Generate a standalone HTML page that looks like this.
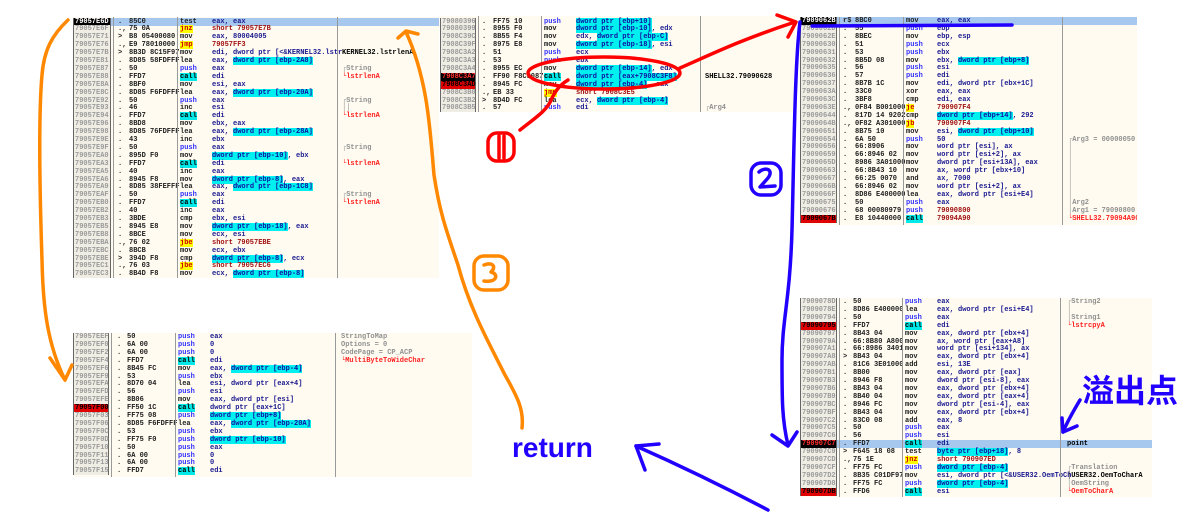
<!DOCTYPE html>
<html><head><meta charset="utf-8">
<style>
html,body{margin:0;padding:0;background:#fff;}
body{width:1200px;height:515px;position:relative;overflow:hidden;font-family:"Liberation Mono",monospace;}
.p{position:absolute;background:#fffbf0;overflow:hidden;}
.r{position:absolute;left:0;right:0;height:8px;font-size:7px;line-height:8px;font-weight:bold;color:#202020;white-space:nowrap;}
.r span{position:absolute;top:0;}
.a{background:#f0ede4;color:#9a9a9a;border-left:1px solid #666;border-right:1px solid #666;box-sizing:border-box;padding-left:1px;height:8px;}
.ak{background:#000;color:#fff;}
.ar{background:#e00000;color:#000;}
.akr{background:#000;color:#ff3030;}
.sel{background:#a6c8ee;}
.vl{position:absolute;top:0;bottom:0;width:1px;background:#999;}
.c{background:#00f0f0;color:#1010a0;}
.b{color:#1a1a90;}
.pu{color:#3030ff;}
.ca{background:#00e8e8;color:#000;}
.j{background:#ffff00;color:#d00000;}
.dr{color:#a01010;}
.cm{color:#909090;}
.cr{color:#ff2020;}
.ck{color:#000;}
svg{position:absolute;left:0;top:0;}
</style></head><body>

<div class="p" id="p1" style="left:73px;top:17px;width:366px;height:261px"></div>
<div class="p" id="p2" style="left:440px;top:16px;width:355px;height:96px"></div>
<div class="p" id="p3" style="left:800px;top:17px;width:337px;height:208px"></div>
<div class="p" id="p4" style="left:73px;top:333px;width:399px;height:144px"></div>
<div class="p" id="p5" style="left:800px;top:298px;width:352px;height:199px"></div>

<script>
function esc(s){return s.replace(/&/g,'&amp;').replace(/</g,'&lt;');}
function op(s){
  if(s[0]=='#')return '<span style="position:static" class="dr">'+esc(s.slice(1))+'</span>';
  return esc(s).replace(/\{([^}]*)\}/g,'<b style="font-weight:bold" class="c">$1</b>');
}
function mn(m){
  var c='';
  if(m=='push')c='pu';else if(m=='call')c='ca';else if(/^j/.test(m))c='j';
  return '<b style="font-weight:bold" class="'+c+'">'+m+'</b>';
}
function build(id,cfg,rows){
  var p=document.getElementById(id),h='';
  rows.forEach(function(r,i){
    var f=r.split('|');var fl=f[6]||'';
    var ac='a'+(fl.indexOf('k')>=0?(fl.indexOf('r')>=0?' akr':' ak'):(fl.indexOf('r')>=0?' ar':''));
    var com=f[5]||'',cc='cm';
    if(com[0]=='!'){cc='cr';com=com.slice(1);}else if(com[0]=='^'){cc='ck';com=com.slice(1);}
    h+='<div class="r'+(fl.indexOf('s')>=0?' sel':'')+'" style="top:'+(cfg.y0+i*7.9)+'px">'+
      '<span class="'+ac+'" style="left:'+cfg.ax+'px;width:'+cfg.aw+'px">'+f[0]+'</span>'+
      '<span style="left:'+cfg.d+'px">'+f[1]+'</span>'+
      '<span style="left:'+cfg.by+'px;width:'+(cfg.m-cfg.by)+'px;overflow:hidden">'+esc(f[2])+'</span>'+
      '<span style="left:'+cfg.m+'px">'+mn(f[3])+'</span>'+
      '<span class="b" style="left:'+cfg.o+'px">'+op(f[4])+'</span>'+
      '<span class="'+cc+'" style="left:'+cfg.cm+'px">'+esc(com)+'</span></div>';
  });
  h+='<div class="vl" style="left:'+(cfg.ax+cfg.aw+2)+'px"></div><div class="vl" style="left:'+(cfg.m-3)+'px"></div><div class="vl" style="left:'+cfg.s+'px"></div>';
  p.innerHTML=h;
}
build('p1',{y0:0.5,ax:0,aw:38,d:45,by:56,m:107,o:139,s:264,cm:269},[
"79057E6D|.|85C0|test|eax, eax||ks",
"79057E6F|.,|75 0A|jnz|#short 79057E7B||",
"79057E71|>|B8 05400080|mov|eax, 80004005||",
"79057E76|.,|E9 78010000|jmp|#79057FF3||",
"79057E7B|>|8B3D 8C15F97|mov|edi, dword ptr [<&KERNEL32.lstr|^KERNEL32.lstrlenA|",
"79057E81|.|8D85 58FDFFF|lea|eax, {dword ptr [ebp-2A8]}||",
"79057E87|.|50|push|eax|┌String|",
"79057E88|.|FFD7|call|edi|!└lstrlenA|",
"79057E8A|.|8BF0|mov|esi, eax||",
"79057E8C|.|8D85 F6FDFFF|lea|eax, {dword ptr [ebp-20A]}||",
"79057E92|.|50|push|eax|┌String|",
"79057E93|.|46|inc|esi|││|",
"79057E94|.|FFD7|call|edi|!└lstrlenA|",
"79057E96|.|8BD8|mov|ebx, eax||",
"79057E98|.|8D85 76FDFFF|lea|eax, {dword ptr [ebp-28A]}||",
"79057E9E|.|43|inc|ebx||",
"79057E9F|.|50|push|eax|┌String|",
"79057EA0|.|895D F0|mov|{dword ptr [ebp-10]}, ebx||",
"79057EA3|.|FFD7|call|edi|!└lstrlenA|",
"79057EA5|.|40|inc|eax||",
"79057EA6|.|8945 F8|mov|{dword ptr [ebp-8]}, eax||",
"79057EA9|.|8D85 38FEFFF|lea|eax, {dword ptr [ebp-1C8]}||",
"79057EAF|.|50|push|eax|┌String|",
"79057EB0|.|FFD7|call|edi|!└lstrlenA|",
"79057EB2|.|40|inc|eax||",
"79057EB3|.|3BDE|cmp|ebx, esi||",
"79057EB5|.|8945 E8|mov|{dword ptr [ebp-18]}, eax||",
"79057EB8|.|8BCE|mov|ecx, esi||",
"79057EBA|.,|76 02|jbe|#short 79057EBE||",
"79057EBC|.|8BCB|mov|ecx, ebx||",
"79057EBE|>|394D F8|cmp|{dword ptr [ebp-8]}, ecx||",
"79057EC1|.,|76 03|jbe|#short 79057EC6||",
"79057EC3|.|8B4D F8|mov|ecx, {dword ptr [ebp-8]}||"]);
build('p2',{y0:1.5,ax:0,aw:36,d:42,by:53,m:104,o:136,s:260,cm:265},[
"79080396|.|FF75 10|push|{dword ptr [ebp+10]}||",
"79080399|.|8955 F0|mov|{dword ptr [ebp-10]}, edx||",
"7908C39C|.|8B55 F4|mov|edx, {dword ptr [ebp-C]}||",
"7908C39F|.|8975 E8|mov|{dword ptr [ebp-18]}, esi||",
"7908C3A2|.|51|push|ecx||",
"7908C3A3|.|53|push|ebx||",
"7908C3A4|.|8955 EC|mov|{dword ptr [ebp-14]}, edx||",
"7908C3A7|.|FF90 F8C3087|call|{dword ptr [eax+7908C3F8]}|^SHELL32.79090628|kr",
"7908C3AD|.|8945 FC|mov|{dword ptr [ebp-4]}, eax||r",
"7908C3B0|.,|EB 33|jmp|#short 7908C3E5||",
"7908C3B2|>|8D4D FC|lea|ecx, {dword ptr [ebp-4]}||",
"7908C3B5|.|57|push|edi|┌Arg4|"]);
build('p3',{y0:0,ax:0,aw:37,d:43,by:55,m:106,o:137,s:262,cm:268},[
"7909062B|r$|8BC0|mov|eax, eax||ks",
"7909062D|.|55|push|ebp||",
"7909062E|.|8BEC|mov|ebp, esp||",
"79090630|.|51|push|ecx||",
"79090631|.|53|push|ebx||",
"79090632|.|8B5D 08|mov|ebx, {dword ptr [ebp+8]}||",
"79090635|.|56|push|esi||",
"79090636|.|57|push|edi||",
"79090637|.|8B7B 1C|mov|edi, dword ptr [ebx+1C]||",
"7909063A|.|33C0|xor|eax, eax||",
"7909063C|.|3BF8|cmp|edi, eax||",
"7909063E|.,|0F84 B001000|je|#790907F4||",
"79090644|.|817D 14 9202|cmp|{dword ptr [ebp+14]}, 292||",
"7909064B|.,|0F82 A301000|jb|#790907F4||",
"79090651|.|8B75 10|mov|esi, {dword ptr [ebp+10]}||",
"79090654|.|6A 50|push|50|┌Arg3 = 00000050|",
"79090656|.|66:8906|mov|word ptr [esi], ax|│|",
"79090659|.|66:8946 02|mov|word ptr [esi+2], ax|│|",
"7909065D|.|8986 3A01000|mov|dword ptr [esi+13A], eax|│|",
"79090663|.|66:8B43 10|mov|ax, word ptr [ebx+10]|│|",
"79090667|.|66:25 0070|and|ax, 7000|│|",
"7909066B|.|66:8946 02|mov|word ptr [esi+2], ax|│|",
"7909066F|.|8D86 E400000|lea|eax, dword ptr [esi+E4]|│|",
"79090675|.|50|push|eax|│Arg2|",
"79090676|.|68 00080979|push|#79090800|│Arg1 = 79090800|",
"7909067B|.|E8 10440000|call|#79094A90|!└SHELL32.79094A90|r"]);
build('p4',{y0:0,ax:0,aw:36,d:44,by:54,m:105,o:137,s:262,cm:268},[
"79057EEF|.|50|push|eax|StringToMap|",
"79057EF0|.|6A 00|push|0|Options = 0|",
"79057EF2|.|6A 00|push|0|CodePage = CP_ACP|",
"79057EF4|.|FFD7|call|edi|!└MultiByteToWideChar|",
"79057EF6|.|8B45 FC|mov|eax, {dword ptr [ebp-4]}||",
"79057EF9|.|53|push|ebx||",
"79057EFA|.|8D70 04|lea|esi, dword ptr [eax+4]||",
"79057EFD|.|56|push|esi||",
"79057EFE|.|8B06|mov|eax, dword ptr [esi]||",
"79057F00|.|FF50 1C|call|dword ptr [eax+1C]||r",
"79057F03|.|FF75 08|push|{dword ptr [ebp+8]}||",
"79057F06|.|8D85 F6FDFFF|lea|eax, {dword ptr [ebp-20A]}||",
"79057F0C|.|53|push|ebx||",
"79057F0D|.|FF75 F0|push|{dword ptr [ebp-10]}||",
"79057F10|.|50|push|eax||",
"79057F11|.|6A 00|push|0||",
"79057F13|.|6A 00|push|0||",
"79057F15|.|FFD7|call|edi||"]);
build('p5',{y0:0,ax:0,aw:37,d:43,by:53,m:105,o:137,s:260,cm:267},[
"7909078D|.|50|push|eax|┌String2|",
"7909078E|.|8D86 E400000|lea|eax, dword ptr [esi+E4]|│|",
"79090794|.|50|push|eax|│String1|",
"79090795|.|FFD7|call|edi|!└lstrcpyA|r",
"79090797|.|8B43 04|mov|eax, dword ptr [ebx+4]||",
"7909079A|.|66:8B80 A800|mov|ax, word ptr [eax+A8]||",
"790907A1|.|66:8986 3401|mov|word ptr [esi+134], ax||",
"790907A8|>|8B43 04|mov|eax, dword ptr [ebx+4]||",
"790907AB|.|81C6 3E01000|add|esi, 13E||",
"790907B1|.|8B00|mov|eax, dword ptr [eax]||",
"790907B3|.|8946 F8|mov|dword ptr [esi-8], eax||",
"790907B6|.|8B43 04|mov|eax, dword ptr [ebx+4]||",
"790907B9|.|8B40 04|mov|eax, dword ptr [eax+4]||",
"790907BC|.|8946 FC|mov|dword ptr [esi-4], eax||",
"790907BF|.|8B43 04|mov|eax, dword ptr [ebx+4]||",
"790907C2|.|83C0 08|add|eax, 8||",
"790907C5|.|50|push|eax||",
"790907C6|.|56|push|esi||",
"790907C7|.|FFD7|call|edi|^point|krs",
"790907C9|>|F645 18 08|test|{byte ptr [ebp+18]}, 8||",
"790907CD|.,|75 1E|jnz|#short 790907ED||",
"790907CF|.|FF75 FC|push|{dword ptr [ebp-4]}|┌Translation|",
"790907D2|.|8B35 C01DF97|mov|esi, dword ptr [<&USER32.OemToCh|^│USER32.OemToCharA|",
"790907D8|.|FF75 FC|push|{dword ptr [ebp-4]}|│OemString|",
"790907DB|.|FFD6|call|esi|!└OemToCharA|r"]);
</script>

<svg width="1200" height="515" viewBox="0 0 1200 515" fill="none" stroke-linecap="round" stroke-linejoin="round">
  <!-- orange -->
  <g stroke="#ff8800" stroke-width="3.5">
    <path d="M68 20 C52 35 44 50 42 75 C38 120 40 200 42 260 C43 310 48 345 65 380"/>
    <path d="M50 358 L65 380 L72 365"/>
    <path d="M522 428 C524 410 518 398 505 375 C490 345 470 310 458 265 C448 235 440 215 434 175 C430 130 428 80 406 32"/>
    <path d="M398 38 L406 31 L418 34"/>
    <rect x="474" y="256" width="34" height="34" rx="10"/>
    <path d="M484 265 C492 262 497 266 491 272 C499 274 497 283 484 281"/>
  </g>
  <!-- red -->
  <g stroke="#ff0000" stroke-width="3.5">
    <ellipse cx="604" cy="73" rx="76" ry="16"/>
    <path d="M520 130 C535 118 548 110 552 98 C556 90 560 85 568 80"/>
    <path d="M680 68 C710 55 740 40 795 22"/>
    <path d="M777 15 L796 22 L788 37"/>
    <rect x="488" y="133" width="26" height="28" rx="9"/>
    <path d="M499 136 L499 158 M504 136 L504 158"/>
  </g>
  <!-- blue -->
  <g stroke="#2200ff" stroke-width="3.5">
    <path d="M812 26 L1012 25"/>
    <path d="M800 22 C795 60 794 150 792 230 C790 300 782 320 782 360 C782 400 782 420 788 445"/>
    <path d="M772 435 L788 446 L797 432"/>
    <rect x="751" y="163" width="30" height="32" rx="10"/>
    <path d="M759 172 C766 166 774 170 768 178 L760 187 L775 186"/>
    <path d="M768 510 C730 490 690 470 636 446"/>
    <path d="M659 444 L636 446 L645 470"/>
    <path d="M1080 400 C1074 410 1068 420 1063 432"/>
    <path d="M1062 418 L1063 432 L1077 426"/>
  </g>
  <text x="512" y="457" font-family="Liberation Sans, sans-serif" font-size="28" font-weight="bold" fill="#2200ff">return</text>
  <text x="1082" y="402" font-family="Liberation Sans, Noto Sans CJK SC, sans-serif" font-size="32" font-weight="bold" fill="#2200ff">溢出点</text>
</svg>
</body></html>
